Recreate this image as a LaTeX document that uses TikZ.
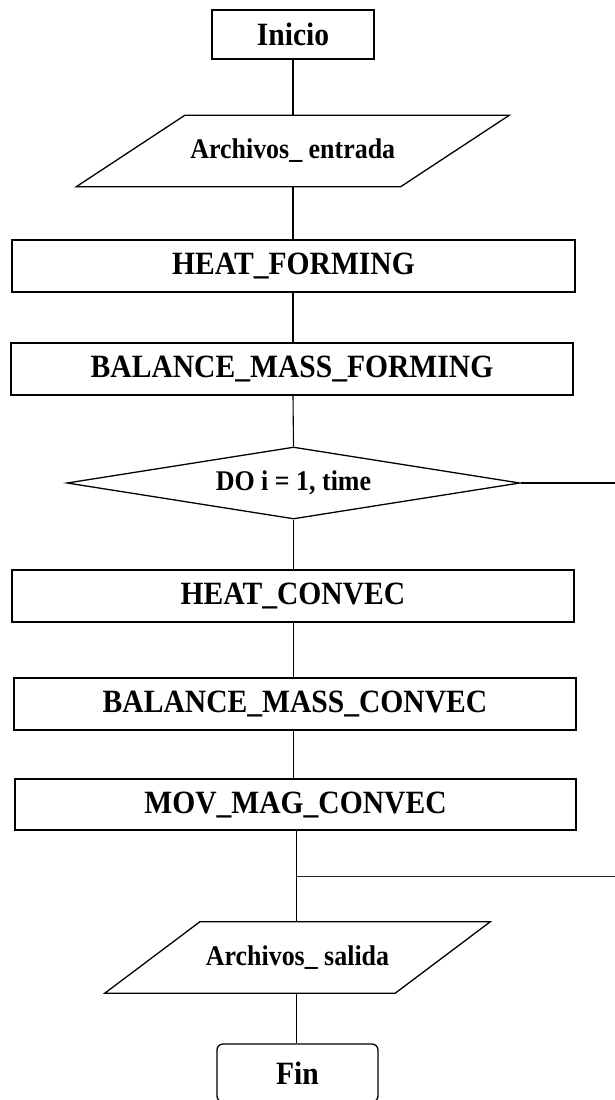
\documentclass[tikz,border=0pt]{standalone}
\usepackage{fontspec}
\setmainfont{Liberation Serif}[FakeStretch=0.91]
\usetikzlibrary{shapes.geometric}
\tikzset{
  procbox/.style={draw, line width=1.3pt, rectangle, inner sep=0pt, minimum width=562pt, minimum height=52pt, font=\fontsize{32.5}{36}\selectfont\bfseries},
  iobox/.style={inner sep=0pt, minimum width=#1, minimum height=71pt, font=\fontsize{28.5}{32}\selectfont\bfseries},
  termbox/.style={draw, line width=1.3pt, inner sep=0pt, minimum width=162pt, minimum height=49pt, font=\fontsize{32.5}{36}\selectfont\bfseries},
  decbox/.style={draw, line width=1.3pt, diamond, shape aspect=6.3, inner sep=0pt, minimum width=453pt, minimum height=72pt, font=\fontsize{28.5}{32}\selectfont\bfseries},
  conn/.style={line width=1.1pt},
  loopline/.style={line width=0.9pt, black!85},
  ioline/.style={line width=1.3pt, line join=miter}
}
\begin{document}
\begin{tikzpicture}[x=1pt, y=-1pt]
\useasboundingbox (0,0) rectangle (615,1100);
% nodes
\node[termbox] (inicio) at (293,34.5) {Inicio};
\node[iobox=324pt] (entrada) at (292.75,151) {Archivos\_ entrada};
\draw[ioline] ([xshift=54.25pt]entrada.north west) -- ([xshift=54.25pt]entrada.north east)
  -- ([xshift=-54.25pt]entrada.south east) -- ([xshift=-54.25pt]entrada.south west) -- cycle;
\node[procbox, minimum width=563pt] (heatf) at (293.5,266) {HEAT\_FORMING};
\node[procbox] (balf) at (292,369) {BALANCE\_MASS\_FORMING};
\node[decbox] (do) at (293.5,483) {DO i = 1, time};
\node[procbox] (heatc) at (293,596) {HEAT\_CONVEC};
\node[procbox] (balc) at (295,704) {BALANCE\_MASS\_CONVEC};
\node[procbox, minimum width=561pt, minimum height=51pt] (movm) at (295.5,804.5) {MOV\_MAG\_CONVEC};
\node[iobox=290pt] (salida) at (297.5,957.5) {Archivos\_ salida};
\draw[ioline] ([xshift=47.5pt]salida.north west) -- ([xshift=47.5pt]salida.north east)
  -- ([xshift=-47.5pt]salida.south east) -- ([xshift=-47.5pt]salida.south west) -- cycle;
\node[termbox, rounded corners=6pt, minimum width=161pt, minimum height=58pt] (fin) at (297.5,1073) {Fin};
\coordinate (doend) at (615,483);
\coordinate (junc) at (296.5,876);
\coordinate (loopend) at (615,876);
% connectors
\draw[conn] (inicio.south) -- (inicio.south |- entrada.north);
\draw[conn] (inicio.south |- entrada.south) -- (inicio.south |- heatf.north);
\draw[conn] (inicio.south |- heatf.south) -- (inicio.south |- balf.north);
\draw[conn] (inicio.south |- balf.south) -- (do.north);
\draw[conn] (do.east) -- (doend);
\draw[conn] (do.south) -- (do.south |- heatc.north);
\draw[conn] (do.south |- heatc.south) -- (do.south |- balc.north);
\draw[conn] (do.south |- balc.south) -- (do.south |- movm.north);
\draw[conn] (junc |- movm.south) -- (junc |- salida.north);
\draw[loopline] (junc) -- (loopend);
\draw[conn] (junc |- salida.south) -- (junc |- fin.north);
\end{tikzpicture}
\end{document}
